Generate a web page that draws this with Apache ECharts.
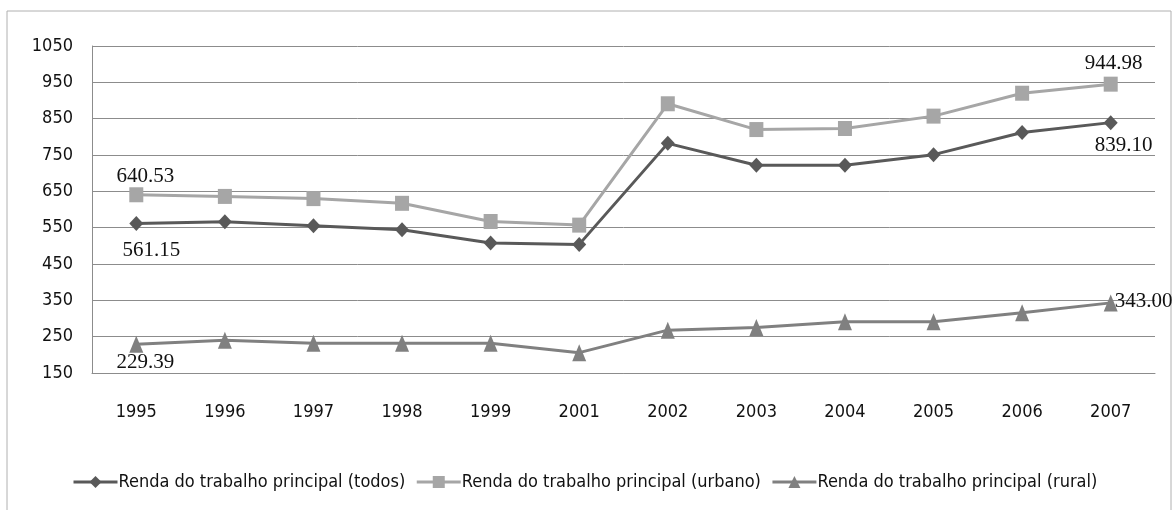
<!DOCTYPE html>
<html>
<head>
<meta charset="utf-8">
<script src="https://cdn.jsdelivr.net/npm/echarts@6/dist/echarts.min.js"></script>
<style>
  html, body { margin: 0; padding: 0; background: #fff; }
  #chart { width: 1174px; height: 510px; }
</style>
</head>
<body>
<div id="chart"></div>
<script>
const years = ["1995", "1996", "1997", "1998", "1999", "2001", "2002", "2003", "2004", "2005", "2006", "2007"];
const todos = [561.15, 566, 555, 544, 508, 504, 782, 722, 722, 751, 812, 839.10];
const urbano = [640.53, 636, 630, 617, 567, 557, 891, 820, 823, 857, 920, 944.98];
const rural = [229.39, 240, 232, 232, 232, 206, 268, 275, 291, 291, 316, 343.00];
const seriesNames = [
  "Renda do trabalho principal (todos)",
  "Renda do trabalho principal (urbano)",
  "Renda do trabalho principal (rural)"
];

const sansFont = "'DejaVu Sans Condensed', 'Liberation Sans', sans-serif";

// labels shown only at a few points, offset from the marker centre
function withLabels(values, marks) {
  return values.map((v, i) => {
    const m = marks[i];
    if (!m) return v;
    return {
      value: v,
      label: {
        show: true,
        position: "inside",
        offset: m.offset,
        formatter: v.toFixed(2),
        color: "#111",
        fontFamily: "Liberation Serif",
        fontSize: 21
      }
    };
  });
}

const chart = echarts.init(document.getElementById("chart"));
chart.setOption({
  animation: false,
  graphic: [{
    type: "rect",
    shape: { x: 7, y: 11, width: 1164, height: 520 },
    style: { fill: "none", stroke: "#b0b0b0", lineWidth: 1 },
    silent: true
  }],
  grid: { left: 92, right: 19, top: 46, bottom: 137 },
  legend: {
    left: 67,
    top: 468,
    width: 1090,
    itemWidth: 44,
    itemHeight: 15,
    itemGap: 10,
    data: seriesNames,
    lineStyle: { width: 3 },
    textStyle: { fontFamily: sansFont, fontSize: 18, color: "#111", padding: [0, 0, 0, -4] }
  },
  xAxis: {
    type: "category",
    data: years,
    boundaryGap: true,
    axisLine: { show: true, lineStyle: { color: "#8c8c8c", width: 1 } },
    axisTick: { show: false },
    axisLabel: { margin: 30, fontFamily: sansFont, fontSize: 18, color: "#111" }
  },
  yAxis: {
    type: "value",
    min: 150,
    max: 1050,
    interval: 100,
    axisLine: { show: true, lineStyle: { color: "#8c8c8c", width: 1 } },
    axisTick: { show: false },
    splitLine: { lineStyle: { color: "#8c8c8c", width: 1 } },
    axisLabel: {
      margin: 19,
      fontFamily: sansFont,
      fontSize: 18,
      color: "#111",
      formatter: v => String(v)
    }
  },
  series: [
    {
      name: seriesNames[0],
      type: "line",
      data: withLabels(todos, { 0: { offset: [15, 27] }, 11: { offset: [13, 23] } }),
      symbol: "diamond",
      symbolSize: [14, 15],
      lineStyle: { color: "#595959", width: 3 },
      itemStyle: { color: "#595959" },
      z: 4
    },
    {
      name: seriesNames[1],
      type: "line",
      data: withLabels(urbano, { 0: { offset: [9, -18] }, 11: { offset: [3, -21] } }),
      symbol: "rect",
      symbolSize: [14, 15],
      lineStyle: { color: "#a6a6a6", width: 3 },
      itemStyle: { color: "#a6a6a6" },
      z: 3
    },
    {
      name: seriesNames[2],
      type: "line",
      data: withLabels(rural, { 0: { offset: [9, 18] }, 11: { offset: [33, -1] } }),
      symbol: "triangle",
      symbolSize: [14, 17],
      lineStyle: { color: "#808080", width: 3 },
      itemStyle: { color: "#808080" },
      z: 2
    }
  ]
});
</script>
</body>
</html>
